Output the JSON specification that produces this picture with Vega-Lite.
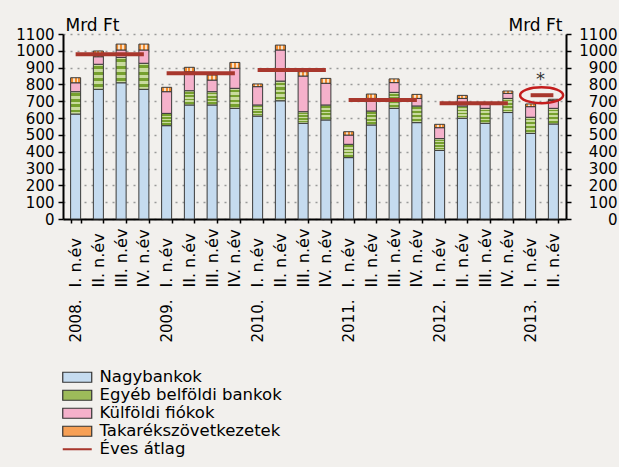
{
  "$schema": "https://vega.github.io/schema/vega-lite/v6.json",
  "width": 503,
  "height": 185,
  "autosize": {"type": "none"},
  "padding": {"left": 63, "top": 34, "right": 53, "bottom": 248},
  "background": "#F2F0ED",
  "config": {
    "view": {"stroke": null},
    "font": "DejaVu Sans",
    "legend": {
      "orient": "none",
      "legendX": 0,
      "legendY": 335,
      "direction": "vertical",
      "padding": 0,
      "labelFontSize": 16.5,
      "labelColor": "#000000",
      "labelOffset": 20,
      "labelLimit": 320,
      "rowPadding": 1,
      "symbolSize": 289,
      "symbolStrokeColor": "#333333",
      "symbolStrokeWidth": 1,
      "symbolOpacity": 1
    }
  },
  "datasets": {
    "quarters": [
      {"q": "2008.|I. n.év", "Nagybankok": 624, "Egyéb belföldi bankok": 133, "Külföldi fiókok": 53, "Takarékszövetkezetek": 30},
      {"q": "2008|II. n.év", "Nagybankok": 771, "Egyéb belföldi bankok": 149, "Külföldi fiókok": 45, "Takarékszövetkezetek": 34},
      {"q": "2008|III. n.év", "Nagybankok": 810, "Egyéb belföldi bankok": 151, "Külföldi fiókok": 44, "Takarékszövetkezetek": 35},
      {"q": "2008|IV. n.év", "Nagybankok": 771, "Egyéb belföldi bankok": 155, "Külföldi fiókok": 79, "Takarékszövetkezetek": 35},
      {"q": "2009.|I. n.év", "Nagybankok": 555, "Egyéb belföldi bankok": 73, "Külföldi fiókok": 129, "Takarékszövetkezetek": 26},
      {"q": "2009|II. n.év", "Nagybankok": 678, "Egyéb belföldi bankok": 85, "Külföldi fiókok": 113, "Takarékszövetkezetek": 26},
      {"q": "2009|III. n.év", "Nagybankok": 678, "Egyéb belföldi bankok": 79, "Külföldi fiókok": 69, "Takarékszövetkezetek": 30},
      {"q": "2009|IV. n.év", "Nagybankok": 658, "Egyéb belföldi bankok": 119, "Külföldi fiókok": 119, "Takarékszövetkezetek": 35},
      {"q": "2010.|I. n.év", "Nagybankok": 612, "Egyéb belföldi bankok": 66, "Külföldi fiókok": 109, "Takarékszövetkezetek": 16},
      {"q": "2010|II. n.év", "Nagybankok": 703, "Egyéb belföldi bankok": 117, "Külföldi fiókok": 185, "Takarékszövetkezetek": 29},
      {"q": "2010|III. n.év", "Nagybankok": 569, "Egyéb belföldi bankok": 69, "Külföldi fiókok": 212, "Takarékszövetkezetek": 26},
      {"q": "2010|IV. n.év", "Nagybankok": 589, "Egyéb belföldi bankok": 89, "Külföldi fiókok": 129, "Takarékszövetkezetek": 29},
      {"q": "2011.|I. n.év", "Nagybankok": 365, "Egyéb belföldi bankok": 79, "Külföldi fiókok": 55, "Takarékszövetkezetek": 20},
      {"q": "2011|II. n.év", "Nagybankok": 559, "Egyéb belföldi bankok": 83, "Külföldi fiókok": 75, "Takarékszövetkezetek": 26},
      {"q": "2011|III. n.év", "Nagybankok": 658, "Egyéb belföldi bankok": 95, "Külföldi fiókok": 58, "Takarékszövetkezetek": 22},
      {"q": "2011|IV. n.év", "Nagybankok": 573, "Egyéb belföldi bankok": 99, "Külföldi fiókok": 45, "Takarékszövetkezetek": 24},
      {"q": "2012.|I. n.év", "Nagybankok": 408, "Egyéb belföldi bankok": 70, "Külföldi fiókok": 65, "Takarékszövetkezetek": 20},
      {"q": "2012|II. n.év", "Nagybankok": 599, "Egyéb belföldi bankok": 73, "Külföldi fiókok": 45, "Takarékszövetkezetek": 18},
      {"q": "2012|III. n.év", "Nagybankok": 569, "Egyéb belföldi bankok": 89, "Külföldi fiókok": 24, "Takarékszövetkezetek": 10},
      {"q": "2012|IV. n.év", "Nagybankok": 633, "Egyéb belföldi bankok": 84, "Külföldi fiókok": 30, "Takarékszövetkezetek": 14},
      {"q": "2013.|I. n.év", "Nagybankok": 509, "Egyéb belföldi bankok": 96, "Külföldi fiókok": 63, "Takarékszövetkezetek": 16},
      {"q": "2013|II. n.év", "Nagybankok": 565, "Egyéb belföldi bankok": 93, "Külföldi fiókok": 46, "Takarékszövetkezetek": 8}
    ],
    "avg": [
      {"year": "2008", "cat": "Éves átlag", "first": "2008.|I. n.év", "last": "2008|IV. n.év", "v": 979},
      {"year": "2009", "cat": "Éves átlag", "first": "2009.|I. n.év", "last": "2009|IV. n.év", "v": 866},
      {"year": "2010", "cat": "Éves átlag", "first": "2010.|I. n.év", "last": "2010|IV. n.év", "v": 886},
      {"year": "2011", "cat": "Éves átlag", "first": "2011.|I. n.év", "last": "2011|IV. n.év", "v": 707},
      {"year": "2012", "cat": "Éves átlag", "first": "2012.|I. n.év", "last": "2012|IV. n.év", "v": 688},
      {"year": "2013", "cat": "Éves átlag", "first": "2013.|I. n.év", "last": "2013|II. n.év", "v": 736, "note": "*"}
    ]
  },
  "resolve": {"axis": {"x": "independent", "y": "independent"}},
  "layer": [
    {
      "data": {"name": "quarters"},
      "transform": [
        {"fold": ["Nagybankok", "Egyéb belföldi bankok", "Külföldi fiókok", "Takarékszövetkezetek"], "as": ["cat", "v"]},
        {"calculate": "indexof(['Nagybankok','Egyéb belföldi bankok','Külföldi fiókok','Takarékszövetkezetek'], datum.cat)", "as": "ord"}
      ],
      "mark": {"type": "bar", "stroke": "#3A3A3A", "strokeWidth": 1},
      "encoding": {
        "x": {
          "field": "q",
          "type": "nominal",
          "scale": {
            "domain": ["2008.|I. n.év", "2008|II. n.év", "2008|III. n.év", "2008|IV. n.év", "2009.|I. n.év", "2009|II. n.év", "2009|III. n.év", "2009|IV. n.év", "2010.|I. n.év", "2010|II. n.év", "2010|III. n.év", "2010|IV. n.év", "2011.|I. n.év", "2011|II. n.év", "2011|III. n.év", "2011|IV. n.év", "2012.|I. n.év", "2012|II. n.év", "2012|III. n.év", "2012|IV. n.év", "2013.|I. n.év", "2013|II. n.év"],
            "paddingInner": 0.56,
            "paddingOuter": 0.335
          },
          "axis": {
            "orient": "bottom",
            "title": null,
            "labelExpr": "split(datum.value,'|')[1]",
            "labelAngle": -90,
            "labelAlign": "left",
            "labelBaseline": "middle",
            "labelPadding": 64,
            "labelFontSize": 16,
            "labelColor": "#000000",
            "labelOverlap": false,
            "tickBand": "extent",
            "tickSize": 4,
            "tickColor": "#000000",
            "tickWidth": 1.5,
            "domainColor": "#000000",
            "domainWidth": 2,
            "grid": false
          }
        },
        "y": {
          "field": "v",
          "type": "quantitative",
          "stack": "zero",
          "scale": {"domain": [0, 1100], "nice": false},
          "axis": {
            "orient": "left",
            "values": [0, 100, 200, 300, 400, 500, 600, 700, 800, 900, 1000, 1100],
            "format": "d",
            "title": "Mrd Ft",
            "titleAngle": 0,
            "titleX": 2,
            "titleY": -4,
            "titleAlign": "left",
            "titleBaseline": "alphabetic",
            "titleFontSize": 17,
            "titleFontWeight": "normal",
            "titleColor": "#000000",
            "labelFontSize": 15,
            "labelColor": "#000000",
            "labelPadding": 4,
            "labelOverlap": false,
            "labelFlush": false,
            "tickSize": 5,
            "tickColor": "#000000",
            "tickWidth": 1.5,
            "domainColor": "#000000",
            "domainWidth": 2,
            "grid": true,
            "gridColor": "#9A9A9A",
            "gridDash": [2, 5],
            "gridWidth": 1.5
          }
        },
        "color": {
          "condition": [
            {
              "test": "datum.cat === 'Takarékszövetkezetek'",
              "value": {
                "gradient": "linear", "x1": 0, "y1": 0, "x2": 1, "y2": 0,
                "stops": [
                  {"offset": 0, "color": "#F28C2E"}, {"offset": 0.22, "color": "#F28C2E"},
                  {"offset": 0.22, "color": "#FCE1C4"}, {"offset": 0.39, "color": "#FCE1C4"},
                  {"offset": 0.39, "color": "#F28C2E"}, {"offset": 0.61, "color": "#F28C2E"},
                  {"offset": 0.61, "color": "#FCE1C4"}, {"offset": 0.78, "color": "#FCE1C4"},
                  {"offset": 0.78, "color": "#F28C2E"}, {"offset": 1, "color": "#F28C2E"}
                ]
              }
            },
            {
              "test": "datum.cat === 'Egyéb belföldi bankok'",
              "value": {
                "gradient": "linear", "x1": 0, "y1": 0, "x2": 0, "y2": 1,
                "stops": [
                  {"offset": 0, "color": "#C9DB9E"}, {"offset": 0.08, "color": "#C9DB9E"},
                  {"offset": 0.08, "color": "#76A02E"}, {"offset": 0.2, "color": "#76A02E"},
                  {"offset": 0.2, "color": "#C9DB9E"}, {"offset": 0.32, "color": "#C9DB9E"},
                  {"offset": 0.32, "color": "#76A02E"}, {"offset": 0.44, "color": "#76A02E"},
                  {"offset": 0.44, "color": "#C9DB9E"}, {"offset": 0.56, "color": "#C9DB9E"},
                  {"offset": 0.56, "color": "#76A02E"}, {"offset": 0.68, "color": "#76A02E"},
                  {"offset": 0.68, "color": "#C9DB9E"}, {"offset": 0.8, "color": "#C9DB9E"},
                  {"offset": 0.8, "color": "#76A02E"}, {"offset": 0.92, "color": "#76A02E"},
                  {"offset": 0.92, "color": "#C9DB9E"}, {"offset": 1, "color": "#C9DB9E"}
                ]
              }
            }
          ],
          "field": "cat",
          "type": "nominal",
          "scale": {
            "domain": ["Nagybankok", "Egyéb belföldi bankok", "Külföldi fiókok", "Takarékszövetkezetek", "Éves átlag"],
            "range": ["#C5DBEF", "#9DBB5A", "#F5B1CB", "#F7A055", "#A8372D"]
          },
          "legend": {
            "title": null,
            "symbolStrokeColor": "#333333",
            "symbolStrokeWidth": 1.2,
            "encode": {
              "symbols": {
                "update": {
                  "shape": {"signal": "datum.value === 'Éves átlag' ? 'M-1,-0.12L2.41,-0.12L2.41,0.12L-1,0.12Z' : 'M-1,-0.59L2.41,-0.59L2.41,0.59L-1,0.59Z'"},
                  "fill": {"signal": "datum.value === 'Takarékszövetkezetek' ? {gradient: 'linear', x1: 0, y1: 0, x2: 1, y2: 0, stops: [{offset: 0, color: '#F28C2E'}, {offset: 0.08, color: '#F28C2E'}, {offset: 0.08, color: '#FCE1C4'}, {offset: 0.14, color: '#FCE1C4'}, {offset: 0.14, color: '#F28C2E'}, {offset: 0.22, color: '#F28C2E'}, {offset: 0.22, color: '#FCE1C4'}, {offset: 0.28, color: '#FCE1C4'}, {offset: 0.28, color: '#F28C2E'}, {offset: 0.36, color: '#F28C2E'}, {offset: 0.36, color: '#FCE1C4'}, {offset: 0.42, color: '#FCE1C4'}, {offset: 0.42, color: '#F28C2E'}, {offset: 0.5, color: '#F28C2E'}, {offset: 0.5, color: '#FCE1C4'}, {offset: 0.56, color: '#FCE1C4'}, {offset: 0.56, color: '#F28C2E'}, {offset: 0.64, color: '#F28C2E'}, {offset: 0.64, color: '#FCE1C4'}, {offset: 0.7, color: '#FCE1C4'}, {offset: 0.7, color: '#F28C2E'}, {offset: 0.78, color: '#F28C2E'}, {offset: 0.78, color: '#FCE1C4'}, {offset: 0.84, color: '#FCE1C4'}, {offset: 0.84, color: '#F28C2E'}, {offset: 1, color: '#F28C2E'}]} : datum.value === 'Egyéb belföldi bankok' ? {gradient: 'linear', x1: 0, y1: 0, x2: 0, y2: 1, stops: [{offset: 0, color: '#76A02E'}, {offset: 0.2, color: '#76A02E'}, {offset: 0.2, color: '#C9DB9E'}, {offset: 0.4, color: '#C9DB9E'}, {offset: 0.4, color: '#76A02E'}, {offset: 0.6, color: '#76A02E'}, {offset: 0.6, color: '#C9DB9E'}, {offset: 0.8, color: '#C9DB9E'}, {offset: 0.8, color: '#76A02E'}, {offset: 1, color: '#76A02E'}]} : scale('color', datum.value)"},
                  "stroke": {"signal": "datum.value === 'Éves átlag' ? 'transparent' : '#333333'"},
                  "strokeWidth": {"signal": "datum.value === 'Éves átlag' ? 0 : 1.2"}
                }
              }
            }
          }
        },
        "order": {"field": "ord", "type": "quantitative"}
      }
    },
    {
      "data": {"name": "avg"},
      "mark": {"type": "rule", "strokeWidth": 4, "color": "#A8372D"},
      "encoding": {
        "x": {
          "field": "first",
          "type": "nominal",
          "axis": {
            "orient": "bottom",
            "title": null,
            "labelExpr": "indexof(datum.value,'.|') > 0 ? split(datum.value,'|')[0] : ''",
            "labelAngle": -90,
            "labelAlign": "left",
            "labelBaseline": "middle",
            "labelPadding": 123,
            "labelFontSize": 15,
            "labelColor": "#000000",
            "labelOverlap": false,
            "ticks": false,
            "tickSize": 0,
            "domain": false,
            "grid": false
          }
        },
        "x2": {"field": "last"},
        "y": {
          "field": "v",
          "type": "quantitative",
          "axis": {
            "orient": "right",
            "values": [0, 100, 200, 300, 400, 500, 600, 700, 800, 900, 1000, 1100],
            "format": "d",
            "title": "Mrd Ft",
            "titleAngle": 0,
            "titleX": -4,
            "titleY": -4,
            "titleAlign": "right",
            "titleBaseline": "alphabetic",
            "titleFontSize": 17,
            "titleFontWeight": "normal",
            "titleColor": "#000000",
            "labelFontSize": 15,
            "labelColor": "#000000",
            "labelAlign": "right",
            "labelPadding": 46,
            "labelOverlap": false,
            "labelFlush": false,
            "tickSize": 5,
            "tickColor": "#000000",
            "tickWidth": 1.5,
            "domainColor": "#000000",
            "domainWidth": 2,
            "grid": false
          }
        }
      }
    },
    {
      "data": {"name": "avg"},
      "transform": [{"filter": "datum.note === '*'"}],
      "mark": {
        "type": "point",
        "shape": "M-1,0A1,0.372,0,1,1,1,0A1,0.372,0,1,1,-1,0Z",
        "size": 1849,
        "filled": false,
        "stroke": "#C41E1E",
        "strokeWidth": 2.5,
        "opacity": 1,
        "xOffset": 11
      },
      "encoding": {
        "x": {"field": "first", "type": "nominal", "axis": null},
        "y": {"field": "v", "type": "quantitative", "axis": null}
      }
    },
    {
      "data": {"name": "avg"},
      "transform": [{"filter": "datum.note === '*'"}],
      "mark": {"type": "text", "fontSize": 18, "color": "#333333", "dy": -15, "xOffset": 10, "baseline": "middle"},
      "encoding": {
        "x": {"field": "first", "type": "nominal", "axis": null},
        "y": {"field": "v", "type": "quantitative", "axis": null},
        "text": {"field": "note"}
      }
    }
  ]
}
